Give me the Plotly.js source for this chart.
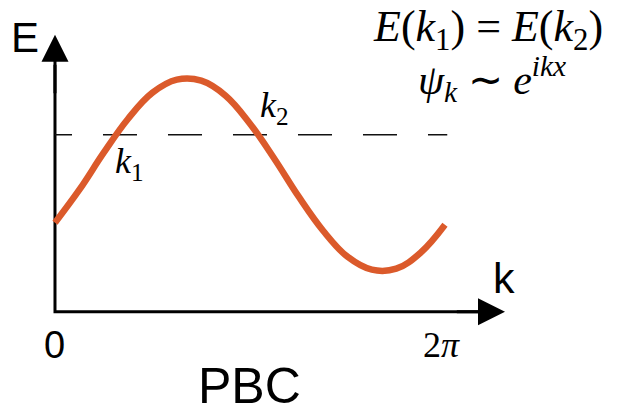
<!DOCTYPE html>
<html>
<head>
<meta charset="utf-8">
<script src="https://cdn.plot.ly/plotly-3.0.1.min.js"></script>
<style>
  html, body { margin: 0; padding: 0; background: #ffffff; }
  #chart { width: 620px; height: 413px; }
</style>
</head>
<body>
<div id="chart"></div>
<script>
// Band dispersion E(k) over one Brillouin zone, k from 0 to 2π
const kValues = [0, 0.393, 0.785, 1.178, 1.571, 1.963, 2.356, 2.749, 3.142,
                 3.534, 3.927, 4.320, 4.712, 5.105, 5.498, 5.890, 6.283];
const energyValues = [0.89, 1.22, 1.59, 1.93, 2.19, 2.32, 2.31, 2.16, 1.88,
                      1.53, 1.15, 0.81, 0.55, 0.42, 0.43, 0.59, 0.87];

// Constant-energy level cutting the band at k1 and k2
const levelK = [0, 6.32];
const levelE = [1.77, 1.77];

// Extent of the drawn E and k axes (arrow tips)
const axisKEnd = 7.25;
const axisEEnd = 2.77;

// Tick labels along the k axis
const tickK = [0, 6.283];
const tickText = ['0', '2<i>π</i>'];

const sans = '"Liberation Sans", Arial, sans-serif';
const serif = '"Liberation Serif", "Times New Roman", serif';

const traces = [
  {
    // E and k axes
    x: [0, 0, axisKEnd - 0.3],
    y: [axisEEnd - 0.3, 0, 0],
    mode: 'lines',
    line: { color: '#000000', width: 3 },
    hoverinfo: 'skip'
  },
  {
    x: levelK,
    y: levelE,
    mode: 'lines',
    line: { color: '#111111', width: 1.6,
            dash: '17px,31px,34px,31px,34px,31px,34px,31px,34px,31px,34px,31px,34px' },
    hoverinfo: 'skip'
  },
  {
    x: kValues,
    y: energyValues,
    mode: 'lines',
    line: { color: '#DB5A2B', width: 6.5, shape: 'spline', smoothing: 1.1 },
    hoverinfo: 'skip'
  }
];

// pixel -> paper helpers for text placement
const px = v => v / 620;
const py = v => 1 - v / 413;

const annotations = [
  // arrowheads
  { x: 0, y: axisEEnd, ax: 0, ay: axisEEnd - 0.6, xref: 'x', yref: 'y', axref: 'x', ayref: 'y',
    text: '', showarrow: true, arrowhead: 2, arrowsize: 1.8, arrowwidth: 3, arrowcolor: '#000000',
    standoff: 0, startstandoff: 0 },
  { x: axisKEnd, y: 0, ax: axisKEnd - 0.8, ay: 0, xref: 'x', yref: 'y', axref: 'x', ayref: 'y',
    text: '', showarrow: true, arrowhead: 2, arrowsize: 1.8, arrowwidth: 3, arrowcolor: '#000000',
    standoff: 0, startstandoff: 0 },
  // axis names
  { x: px(25), y: py(37), xref: 'paper', yref: 'paper', text: 'E', showarrow: false,
    font: { family: sans, size: 42, color: '#000000' }, xanchor: 'center', yanchor: 'middle' },
  { x: px(504), y: py(278), xref: 'paper', yref: 'paper', text: 'k', showarrow: false,
    font: { family: sans, size: 43, color: '#000000' }, xanchor: 'center', yanchor: 'middle' },
  // k tick labels
  { x: tickK[0], y: 0, xref: 'x', yref: 'y', yshift: -33, text: tickText[0], showarrow: false,
    font: { family: sans, size: 38, color: '#000000' }, xanchor: 'center', yanchor: 'middle' },
  { x: tickK[1], y: 0, xref: 'x', yref: 'y', yshift: -33, xshift: -3, text: tickText[1], showarrow: false,
    font: { family: serif, size: 36, color: '#000000' }, xanchor: 'center', yanchor: 'middle' },
  // crossing points
  { x: px(129), y: py(163), xref: 'paper', yref: 'paper', text: '<i>k</i><sub>1</sub>', showarrow: false,
    font: { family: serif, size: 36, color: '#000000' }, xanchor: 'center', yanchor: 'middle' },
  { x: px(274), y: py(107), xref: 'paper', yref: 'paper', text: '<i>k</i><sub>2</sub>', showarrow: false,
    font: { family: serif, size: 36, color: '#000000' }, xanchor: 'center', yanchor: 'middle' },
  // relations
  { x: px(488), y: py(30), xref: 'paper', yref: 'paper',
    text: '<i>E</i>(<i>k</i><sub>1</sub>) = <i>E</i>(<i>k</i><sub>2</sub>)', showarrow: false,
    font: { family: serif, size: 44, color: '#000000' }, xanchor: 'center', yanchor: 'middle' },
  { x: px(492), y: py(79), xref: 'paper', yref: 'paper',
    text: '<i>ψ</i><sub><i>k</i></sub> ∼ <i>e</i><sup><i>ikx</i></sup>', showarrow: false,
    font: { family: serif, size: 42, color: '#000000' }, xanchor: 'center', yanchor: 'middle' },
  // boundary condition label
  { x: px(250), y: py(386), xref: 'paper', yref: 'paper', text: 'PBC', showarrow: false,
    font: { family: sans, size: 50, color: '#000000' }, xanchor: 'center', yanchor: 'middle' }
];

const layout = {
  width: 620,
  height: 413,
  margin: { l: 0, r: 0, t: 0, b: 0 },
  paper_bgcolor: '#ffffff',
  plot_bgcolor: '#ffffff',
  showlegend: false,
  xaxis: { range: [-0.886, 9.103], visible: false, fixedrange: true },
  yaxis: { range: [-1.013, 3.117], visible: false, fixedrange: true },
  annotations: annotations
};

Plotly.newPlot('chart', traces, layout, { staticPlot: true, displayModeBar: false });
</script>
</body>
</html>
